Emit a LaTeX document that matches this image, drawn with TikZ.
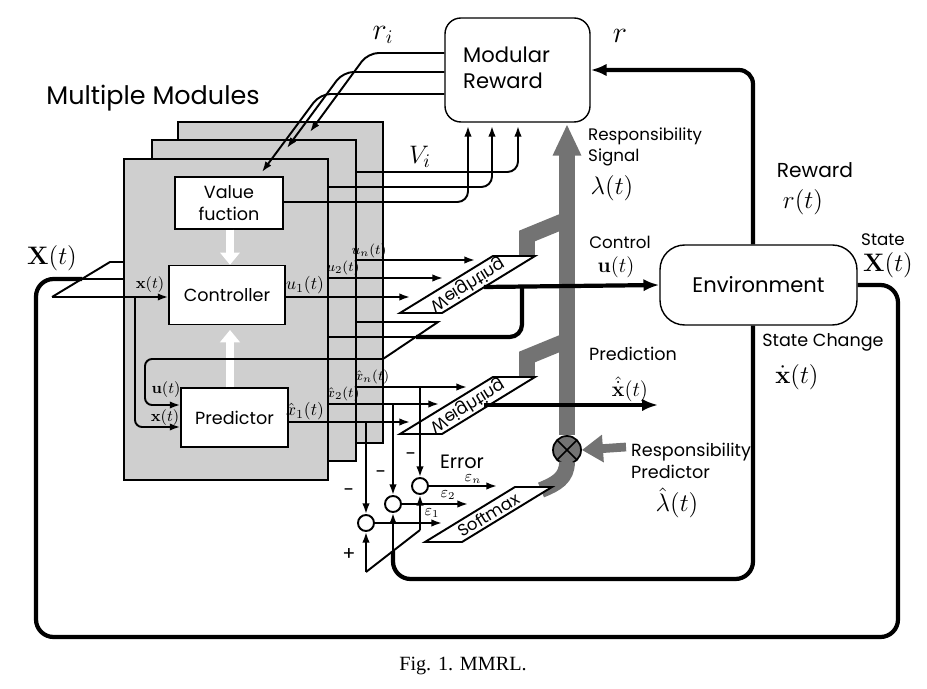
\documentclass[tikz,border=0pt]{standalone}
\usepackage[no-math]{fontspec}
\usepackage{amsmath}
\setmainfont{Poppins}
\newfontfamily\capfont{Liberation Serif}
\usetikzlibrary{arrows.meta,calc}
\colorlet{modgray}{black!19}
\colorlet{resgray}{black!55}
\newcommand{\fsz}[1]{\fontsize{#1}{1.25\dimexpr#1pt\relax}\selectfont}
\tikzset{
	module/.style={draw, fill=modgray, line width=0.6pt},
	blk/.style={draw, fill=white, line width=0.8pt, inner sep=0pt, align=center},
	ln/.style={line width=1.1pt},
	thk/.style={line width=2.4pt},
	arr/.style={-{Latex[length=6pt,width=4.2pt]}},
	tarr/.style={-{Latex[length=9pt,width=7pt]}},
	sumc/.style={circle, draw, line width=1.1pt, minimum size=0.32cm, inner sep=0pt},
	slab/.style={draw, fill=white, line width=1.1pt},
	band/.style={draw=resgray, line width=9pt},
	wbar/.style={draw=white, line width=4pt, -{Triangle[width=11pt,length=7pt]}},
	lbl/.style={inner sep=0.5pt}
}

\begin{document}
\begin{tikzpicture}[x=0.02cm,y=-0.02cm]
	\useasboundingbox (0,0) rectangle (927,689);
	% Stacked modules
	\draw[module] (178,122) rectangle (383,443);
	\draw[module] (152,140) rectangle (356,461);
	\draw[module] (124,159) rectangle (328,480);
	\coordinate (m2e) at (356,0);
	\coordinate (m1e) at (328,0);
	\coordinate (m1w) at (124,0);

	% Blocks
	\node[blk, minimum width=2.16cm, minimum height=1.04cm, font=\fsz{10}] (value) at (229,203) {Value\\fuction};
	\node[blk, minimum width=2.32cm, minimum height=1.18cm, font=\fsz{10}] (ctrl) at (227,295) {Controller};
	\node[blk, minimum width=2.14cm, minimum height=1.18cm, font=\fsz{10}] (pred) at (234.5,417.5) {Predictor};
	\node[blk, rounded corners=9pt, minimum width=2.9cm, minimum height=2.08cm] (mrew) at (517.5,70) {};
	\node[lbl, font=\fsz{12}, align=left, anchor=west] (mrewlbl) at (462,68) {Modular\\Reward};
	\node[blk, rounded corners=14pt, minimum width=3.94cm, minimum height=1.6cm, font=\fsz{12}] (env) at (758.5,285) {Environment};

	% White arrows inside the module
	\draw[wbar] (value.south -| 230,0) -- (ctrl.north -| 230,0);
	\draw[wbar] (pred.north -| 230,0) -- (230,330);

	% Responsibility signal (gray)
	\node[circle, draw, fill=resgray, line width=1pt, minimum size=0.56cm, inner sep=0pt,
		path picture={\draw[line width=1pt] (path picture bounding box.north west) -- (path picture bounding box.south east)
			(path picture bounding box.north east) -- (path picture bounding box.south west);}] (mult) at (567,450) {};
	\draw[band, -{Triangle[width=15pt,length=18pt]}] (mult.north) -- (567,124);
	\draw[band] (567,462) .. controls (567,478) and (556,484) .. (541,490);
	\draw[band, line cap=butt, line join=miter] (566,220) -- (527,236) -- (527,257);
	\draw[band, line cap=butt, line join=miter] (566,341) -- (527,357) -- (527,378);
	\draw[resgray, line width=5pt, -{Triangle[width=15pt,length=12pt]}] (626,447) -- (mult.east);

	% r_i to the modules
	\draw[ln, arr, rounded corners=6pt] (mrew.west |- 0,53) -- (368,53) -- (310,132);
	\draw[ln, arr, rounded corners=6pt] (mrew.west |- 0,72) -- (343,72) -- (287,148);
	\draw[ln, arr, rounded corners=6pt] (mrew.west |- 0,94) -- (320,94) -- (262,172);
	% V_i to modular reward
	\draw[ln, arr, rounded corners=6pt] (m2e |- 0,172) -- (518,172) -- (518,126);
	\draw[ln, arr, rounded corners=6pt] (m1e |- 0,187) -- (492,187) -- (492,126);
	\draw[ln, arr, rounded corners=6pt] (value.east |- 0,202) -- (468,202) -- (468,126);
	% reward
	\draw[thk, tarr, rounded corners=8pt] (env.north -| 753,0) -- (753,70) -- (mrew.east |- 0,70);

	% Weighting and softmax
	\draw[slab] (400,313) -- (442,313) -- (535,256) -- (493,256) -- cycle;
	\node[lbl, rotate=31.5, font=\fsz{9.5}] (wgt1) at (467.5,284.5) {\scalebox{1}[-1]{Weighting}};
	\draw[slab] (400,434) -- (442,434) -- (535,377) -- (493,377) -- cycle;
	\node[lbl, rotate=31.5, font=\fsz{9.5}] (wgt2) at (467.5,405.5) {\scalebox{1}[-1]{Weighting}};
	\draw[slab] (425,542) -- (462,542) -- (552,487) -- (515,487) -- cycle;
	\node[lbl, rotate=31.5, font=\fsz{9.5}] (soft) at (488.5,514.5) {Softmax};

	% State input bus
	\draw[thk, rounded corners=10pt] (env.east) -- (898,285) -- (898,637) -- (36,637) -- (36,279) -- (82,279);
	\draw[ln] (82,279) -- (m1w |- 0,279);
	\draw[ln] (52,297) -- (110,262) -- (m1w |- 0,262);
	\draw[ln, arr] (52,297) -- (ctrl.west |- 0,297);
	\draw[ln, arr, rounded corners=4pt] (135,297) -- (135,427) -- (pred.west |- 0,427);

	% Control outputs
	\draw[ln, arr] (ctrl.east |- 0,297) -- (410,297);
	\draw[ln, arr] (m1e |- 0,278) -- (443,278);
	\draw[ln, arr] (m2e |- 0,260) -- (475,260);
	\draw[thk, tarr] (484,287) -- (env.west);
	% control fed back to the predictors
	\draw[thk, rounded corners=7pt] (522,287) -- (522,337) -- (416,337);
	\draw[ln] (416,337) -- (m1e |- 0,337);
	\draw[ln] (383,359) -- (438,322) -- (m2e |- 0,322);
	\draw[ln, arr, rounded corners=4pt] (383,359) -- (145,359) -- (145,405) -- (pred.west |- 0,405);

	% Predictions
	\draw[ln, arr] (pred.east |- 0,422) -- (410,422);
	\draw[ln, arr] (m1e |- 0,404) -- (439,404);
	\draw[ln, arr] (m2e |- 0,387) -- (467,387);
	\coordinate (predout) at (658,405);
	\draw[thk, tarr] (484,405) -- (predout);

	% Errors
	\node[sumc] (c1) at (366,523) {};
	\node[sumc] (c2) at (393,504) {};
	\node[sumc] (c3) at (420,486) {};
	\draw[ln, arr] (c1.north |- 0,422) -- (c1.north);
	\draw[ln, arr] (c2.north |- 0,404) -- (c2.north);
	\draw[ln, arr] (c3.north |- 0,387) -- (c3.north);
	\draw[ln, arr] (c1.east) -- (442,523);
	\draw[ln, arr] (c2.east) -- (468,504);
	\draw[ln, arr] (c3.east) -- (497,486);
	\draw[thk, rounded corners=10pt] (env.south -| 753,0) -- (753,579) -- (393,579) -- (393,551);
	\draw[ln, arr] (393,551) -- (c2.south);
	\draw[ln] (366,572) -- (420,530);
	\draw[ln, arr] (366,572) -- (c1.south);
	\draw[ln, arr] (420,530) -- (c3.south);

	% Labels
	\node[lbl, font=\fsz{14.5}] (mmlbl) at (153,98) {Multiple Modules};
	\node[lbl, font=\fsz{16}] (rilbl) at (383,35) {$r_i$};
	\node[lbl, font=\fsz{16}] (rlbl) at (620,36) {$r$};
	\node[lbl, font=\fsz{15}] (vilbl) at (420,157) {$V_i$};
	\node[lbl, font=\fsz{9.5}, align=left, anchor=north west] (rslbl) at (587,127) {Responsibility\\Signal};
	\node[lbl, font=\fsz{14}] (lamlbl) at (612,188) {$\lambda(t)$};
	\node[lbl, font=\fsz{11.5}] (rwlbl) at (815,170) {Reward};
	\node[lbl, font=\fsz{14}] (rtlbl) at (803,202) {$r(t)$};
	\node[lbl, font=\fsz{9.5}] (ctlbl) at (620,242) {Control};
	\node[lbl, font=\fsz{13}] (utlbl) at (616,267) {$\mathbf{u}(t)$};
	\node[lbl, font=\fsz{9.5}] (stlbl) at (883,240) {State};
	\node[lbl, font=\fsz{14}] (xrlbl) at (888,265) {$\mathbf{X}(t)$};
	\node[lbl, font=\fsz{14}] (xllbl) at (52,258) {$\mathbf{X}(t)$};
	\node[lbl, font=\fsz{10}] (sclbl) at (823,342) {State Change};
	\node[lbl, font=\fsz{14}] (xdlbl) at (797,377) {$\dot{\mathbf{x}}(t)$};
	\node[lbl, font=\fsz{10}] (prlbl) at (633,354) {Prediction};
	\node[lbl, font=\fsz{12}] (xhlbl) at (630,389) {$\hat{\dot{\mathbf{x}}}(t)$};
	\node[lbl, font=\fsz{10}, align=left, anchor=west] (rplbl) at (630,461) {Responsibility\\Predictor};
	\node[lbl, font=\fsz{15}] (lhlbl) at (677,503) {$\hat{\lambda}(t)$};
	\node[lbl, font=\fsz{11}] (erlbl) at (462,462) {Error};
	\node[lbl, font=\fsz{9}] (xc) at (150,285) {$\mathbf{x}(t)$};
	\node[lbl, font=\fsz{9}] (xp) at (165,418) {$\mathbf{x}(t)$};
	\node[lbl, font=\fsz{9}] (up) at (166,390) {$\mathbf{u}(t)$};
	\node[lbl, font=\fsz{10}] (u1) at (305,285) {$u_1(t)$};
	\node[lbl, font=\fsz{8}] (u2) at (343,268) {$u_2(t)$};
	\node[lbl, font=\fsz{8}] (un) at (369,251) {$u_n(t)$};
	\node[lbl, font=\fsz{10}] (x1) at (305,411) {$\hat{x}_1(t)$};
	\node[lbl, font=\fsz{8}] (x2) at (343,394) {$\hat{x}_2(t)$};
	\node[lbl, font=\fsz{8}] (xn) at (372,377) {$\hat{x}_n(t)$};
	\node[lbl, font=\fsz{9}] (e1) at (432,513) {$\varepsilon_1$};
	\node[lbl, font=\fsz{9}] (e2) at (448,495) {$\varepsilon_2$};
	\node[lbl, font=\fsz{9}] (en) at (473,479) {$\varepsilon_n$};
	\node[lbl, font=\fsz{11}] (m1) at (349,493) {-};
	\node[lbl, font=\fsz{11}] (m2) at (381,475) {-};
	\node[lbl, font=\fsz{11}] (m3) at (411,457) {-};
	\node[lbl, font=\fsz{11}] (pl) at (349,554) {+};
	\node[lbl, font=\capfont\fsz{11.5}] (cap) at (463,666) {Fig. 1. MMRL.};
\end{tikzpicture}
\end{document}
